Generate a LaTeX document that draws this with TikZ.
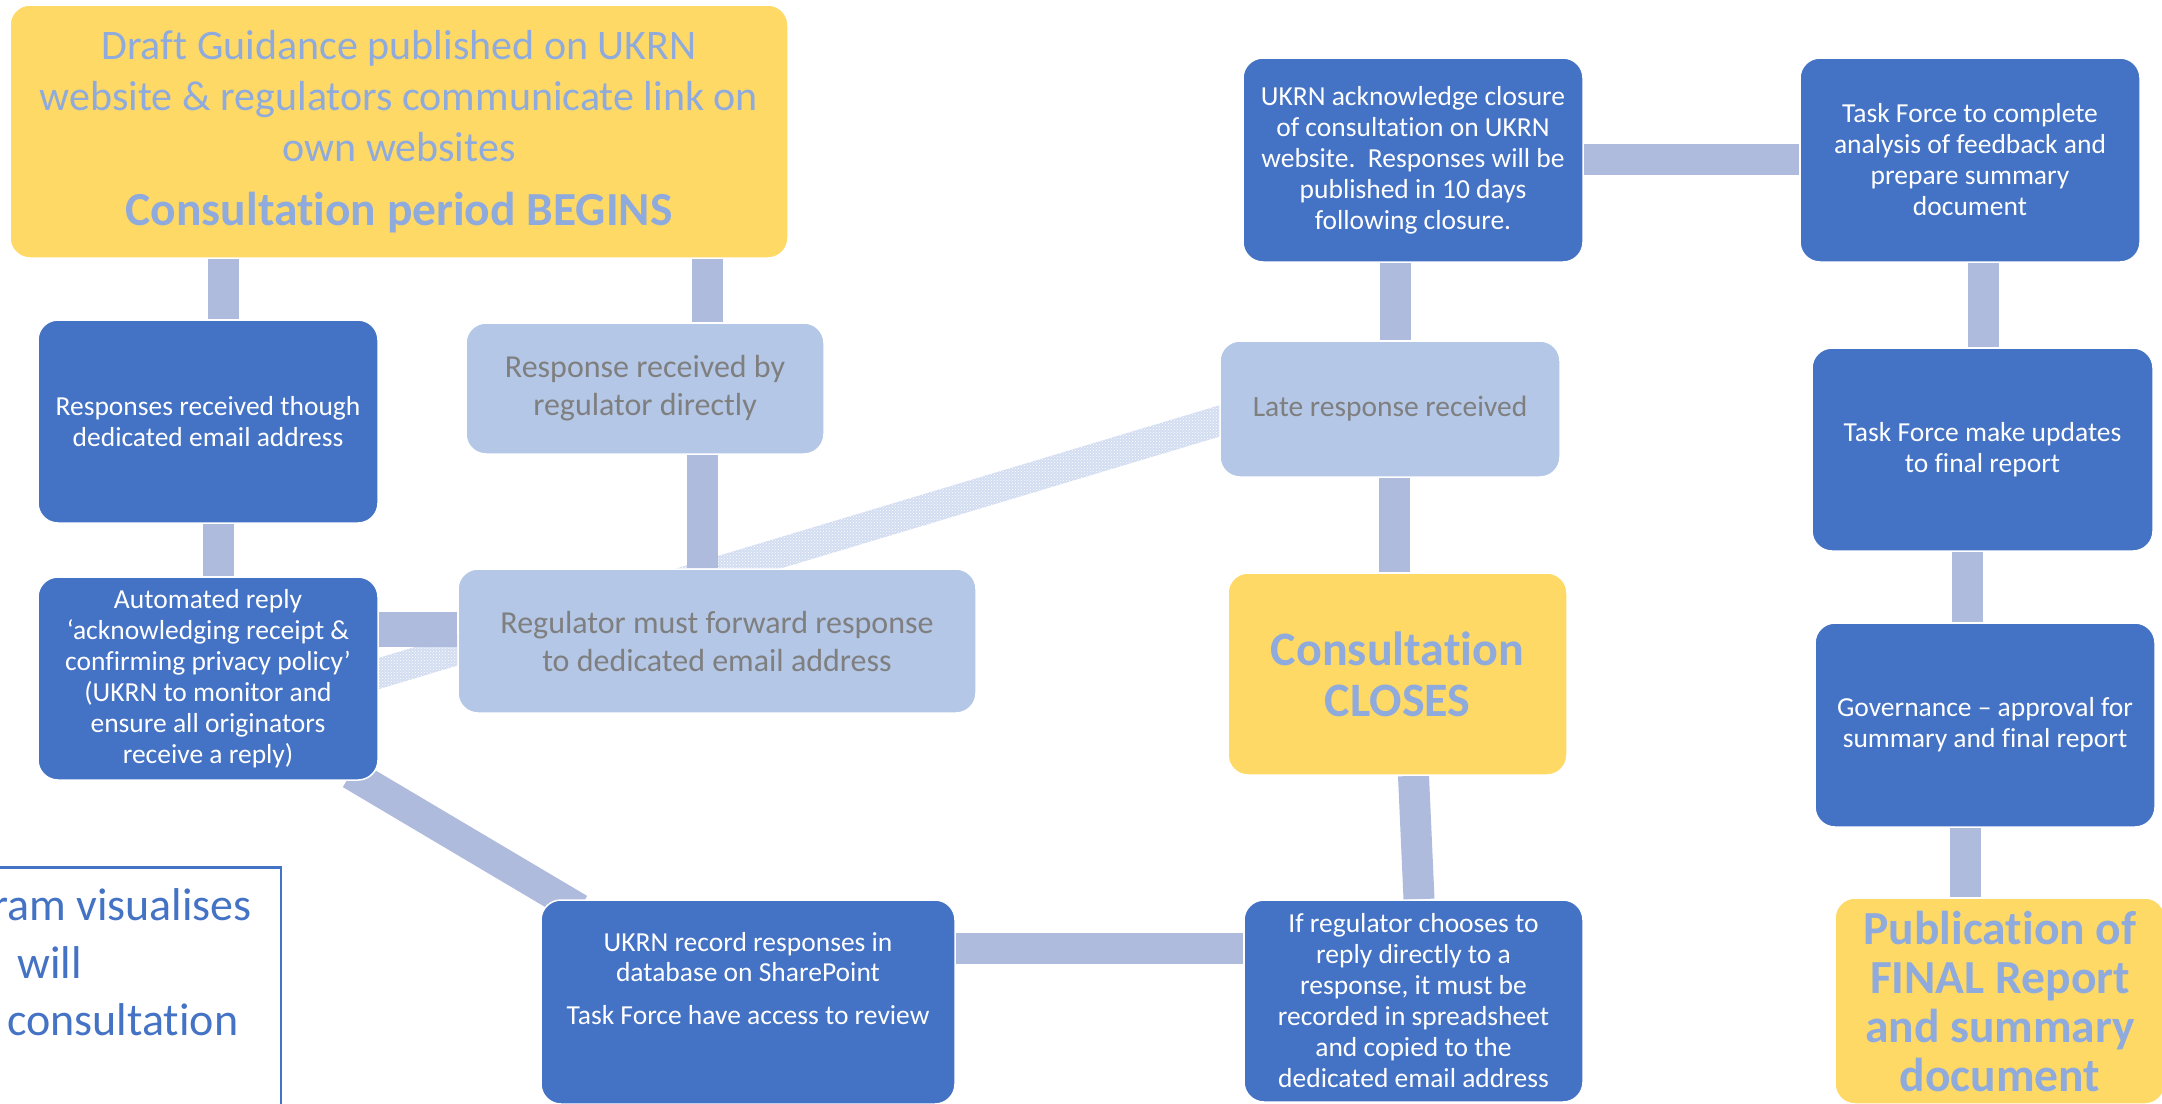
\documentclass[tikz,border=0pt]{standalone}
\usepackage{fontspec}
\setmainfont{Carlito}[Ligatures=NoCommon]
\usetikzlibrary{patterns,calc}
\definecolor{dblue}{HTML}{4472C4}
\definecolor{lblue}{HTML}{B4C7E7}
\definecolor{ylw}{HTML}{FFD966}
\definecolor{ytext}{HTML}{8FAADC}
\definecolor{gtext}{HTML}{7F7F7F}
\definecolor{conn}{HTML}{AFBBDD}
\definecolor{hatchc}{HTML}{D3DDF1}
\pgfdeclarelayer{bg}
\pgfsetlayers{bg,main}
\tikzset{
  box/.style={rectangle, rounded corners=20pt, draw=white, line width=1.5pt, inner sep=0pt, align=center},
  darkbox/.style={box, fill=dblue, text=white, font=\fontsize{27.5}{31}\selectfont},
  lightbox/.style={box, fill=lblue, text=gtext, font=\fontsize{32}{38}\selectfont},
  yellowbox/.style={box, fill=ylw, text=ytext},
  bar/.style={draw=conn, line width=31pt},
  notetext/.style={text=dblue, inner sep=0pt, font=\fontsize{46}{58}\selectfont},
  sz/.style 2 args={minimum width=#1pt, minimum height=#2pt}
}
\begin{document}
\begin{tikzpicture}[x=1pt,y=-1pt]
\useasboundingbox (0,0) rectangle (2162,1103);
\clip (0,0) rectangle (2162,1103);

% boxes
\node[yellowbox, sz={778}{253}, font=\fontsize{42}{51}\selectfont] (top) at (399,131.5)
  {Draft Guidance published on UKRN\\
   website \& regulators communicate link on\\
   own websites\\[13pt]
   {\fontsize{47.5}{51}\selectfont\bfseries Consultation period BEGINS}};
\node[darkbox, sz={340}{203}] (resp) at (208,421.5)
  {Responses received though\\dedicated email address};
\node[darkbox, sz={340}{203}] (auto) at (208,678.5)
  {Automated reply\\‘acknowledging receipt \&\\confirming privacy policy’\\(UKRN to monitor and\\ensure all originators\\receive a reply)};
\node[lightbox, sz={358}{131}] (rrr) at (645,388.5)
  {Response received by\\regulator directly};
\node[lightbox, sz={518}{144}] (fwd) at (717,641)
  {Regulator must forward response\\to dedicated email address};
\node[lightbox, sz={340}{136}, font=\fontsize{29.5}{36}\selectfont] (late) at (1390,409)
  {Late response received};
\node[darkbox, sz={340}{204}] (ack) at (1413,160)
  {UKRN acknowledge closure\\of consultation on UKRN\\website.\ \ Responses will be\\published in 10 days\\following closure.};
\node[darkbox, sz={340}{204}] (tfc) at (1970,160)
  {Task Force to complete\\analysis of feedback and\\prepare summary\\document};
\node[darkbox, sz={341}{203}] (upd) at (1982.5,449.5)
  {Task Force make updates\\to final report};
\node[darkbox, sz={340}{204}] (gov) at (1985,725)
  {Governance – approval for\\summary and final report};
\node[yellowbox, sz={330}{206}, font=\fontsize{47.5}{49}\selectfont\bfseries] (pub) at (2000,1001)
  {Publication of\\FINAL Report\\and summary\\document};
\node[yellowbox, sz={339}{202}, font=\fontsize{48}{51}\selectfont\bfseries] (closes) at (1397.5,674)
  {Consultation\\CLOSES};
\node[darkbox, sz={339}{202}] (ifreg) at (1413.5,1001)
  {If regulator chooses to\\reply directly to a\\response, it must be\\recorded in spreadsheet\\and copied to the\\dedicated email address};
\node[darkbox, sz={414}{204}] (rec) at (748,1002) {};
\node[anchor=north, text=white, align=center, inner sep=0pt, font=\fontsize{27.5}{30}\selectfont] (rectext) at (748,932)
  {UKRN record responses in\\database on SharePoint\\[13pt]Task Force have access to review};

% note box (partly outside the page)
\node[draw=dblue, line width=2.5pt, sz={300}{260}, anchor=north east, inner sep=0pt] (notebox) at (282,866) {};
\node[notetext, anchor=base east] (note1) at (252,920) {ram visualises};
\node[notetext, anchor=base west] (note2) at (17,978) {will};
\node[notetext, anchor=base west] (note3) at (7,1035) {consultation};

% connectors
\begin{pgfonlayer}{bg}
  \coordinate (hA) at ($(auto.east)+(-10,-2)$);
  \coordinate (hB) at ($(late.west)+(10,9)$);
  \fill[hatchc]
    ($(hA)!15pt!90:(hB)$) -- ($(hB)!15pt!-90:(hA)$) -- ($(hB)!15pt!90:(hA)$) -- ($(hA)!15pt!-90:(hB)$) -- cycle;
  \fill[pattern=crosshatch dots, pattern color=white]
    ($(hA)!15pt!90:(hB)$) -- ($(hB)!15pt!-90:(hA)$) -- ($(hB)!15pt!90:(hA)$) -- ($(hA)!15pt!-90:(hB)$) -- cycle;

  \coordinate (k1) at (223,0);
  \coordinate (k2) at (707,0);
  \coordinate (k3) at (218,0);
  \coordinate (k4) at (702,0);
  \coordinate (k5) at (0,629.5);
  \coordinate (k6) at (1395,0);
  \coordinate (k7) at (0,159.5);
  \coordinate (k8) at (1394,0);
  \coordinate (k9) at (0,948.5);
  \coordinate (k10) at (1983,0);
  \coordinate (k11) at (1967,0);
  \coordinate (k12) at (1965,0);
  \draw[bar] (top.south -| k1) -- (resp.north -| k1);
  \draw[bar] (top.south -| k2) -- (rrr.north -| k2);
  \draw[bar] (resp.south -| k3) -- (auto.north -| k3);
  \draw[bar] (rrr.south -| k4) -- (fwd.north -| k4);
  \draw[bar, line width=35pt] (auto.east |- k5) -- (fwd.west |- k5);
  \draw[bar] (ack.south -| k6) -- (late.north -| k6);
  \draw[bar] (ack.east |- k7) -- (tfc.west |- k7);
  \draw[bar] (late.south -| k8) -- (closes.north -| k8);
  \draw[bar] ($(closes.south)+(16,0)$) -- ($(ifreg.north)+(5.5,0)$);
  \draw[bar] (rec.east |- k9) -- (ifreg.west |- k9);
  \draw[bar] (tfc.south -| k10) -- (upd.north -| k10);
  \draw[bar] (upd.south -| k11) -- (gov.north -| k11);
  \draw[bar] (gov.south -| k12) -- (pub.north -| k12);
  \draw[bar] ($(auto.south east)+(-28,-7)$) -- ($(rec.north west)+(39,10)$);
\end{pgfonlayer}
\end{tikzpicture}
\end{document}
